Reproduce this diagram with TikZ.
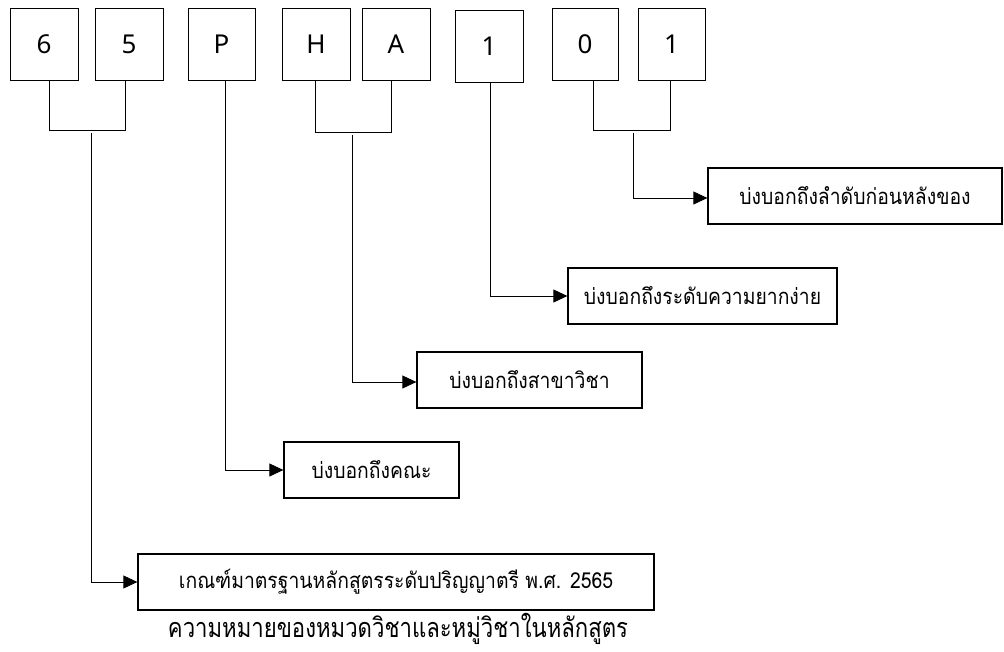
\documentclass[tikz,border=0pt]{standalone}
\usepackage{fontspec}
\setmainfont{Noto Sans}
\newfontfamily\thai[Script=Thai,FakeStretch=0.88]{Loma}
\newfontfamily\thaicap[Script=Thai,FakeStretch=0.82]{Loma}
\usetikzlibrary{arrows.meta}
\begin{document}
\begin{tikzpicture}[x=1pt,y=-1pt,
  digit/.style={draw,line width=0.8pt,minimum width=68pt,minimum height=72pt,inner sep=0pt,font=\fontsize{26}{28}\selectfont},
  mean/.style={draw,line width=1.3pt,minimum height=56pt,inner sep=0pt,font=\thai\fontsize{22}{24}\selectfont},
  link/.style={line width=0.8pt},
  arr/.style={line width=0.8pt,-{Triangle[length=14pt,width=13pt]}}]
\useasboundingbox (0,0) rectangle (1004,652);
% top boxes
\node[digit] (n6) at (44,44) {6};
\node[digit] (n5) at (129,44) {5};
\node[digit,minimum width=67pt] (nP) at (221.5,44) {P};
\node[digit] (nH) at (316,44) {H};
\node[digit] (nA) at (396,44) {A};
\node[digit] (n1) at (489,46) {1};
\node[digit,minimum width=66pt] (n0) at (585,44) {0};
\node[digit,minimum width=67pt] (n1b) at (671.5,44) {1};
% meaning boxes
\node[mean,minimum width=294pt] (b1) at (855,196) {บ่งบอกถึงลำดับก่อนหลังของ};
\node[mean,minimum width=269pt] (b2) at (702.5,296) {บ่งบอกถึงระดับความยากง่าย};
\node[mean,minimum width=225pt] (b3) at (529.5,380) {บ่งบอกถึงสาขาวิชา};
\node[mean,minimum width=175pt] (b4) at (371.5,470) {บ่งบอกถึงคณะ};
\node[mean,minimum width=516pt] (b5) at (396,582) {เกณฑ์มาตรฐานหลักสูตรระดับปริญญาตรี พ.ศ. 2565};
% caption
\node[font=\thaicap\fontsize{27}{29}\selectfont,inner sep=0pt] (cap) at (398,629) {ความหมายของหมวดวิชาและหมู่วิชาในหลักสูตร};
% brackets
\draw[link] ([xshift=5]n6.south) -- ++(0,50) -| ([xshift=-4]n5.south);
\coordinate (s65) at (91,133);
\draw[arr] (s65) |- (b5.west);
\draw[arr] ([xshift=3.5]nP.south) |- (b4.west);
\draw[link] ([xshift=-1]nH.south) -- ++(0,52) -| ([xshift=-5]nA.south);
\coordinate (sHA) at (352,135);
\draw[arr] (sHA) |- ([yshift=-2]b3.west);
\draw[arr] ([xshift=1]n1.south) |- (b2.west);
\draw[link] ([xshift=8]n0.south) -- ++(0,50) -| ([xshift=-1.5]n1b.south);
\coordinate (s01) at (633,133);
\draw[arr] (s01) |- ([yshift=-2]b1.west);
\end{tikzpicture}
\end{document}
